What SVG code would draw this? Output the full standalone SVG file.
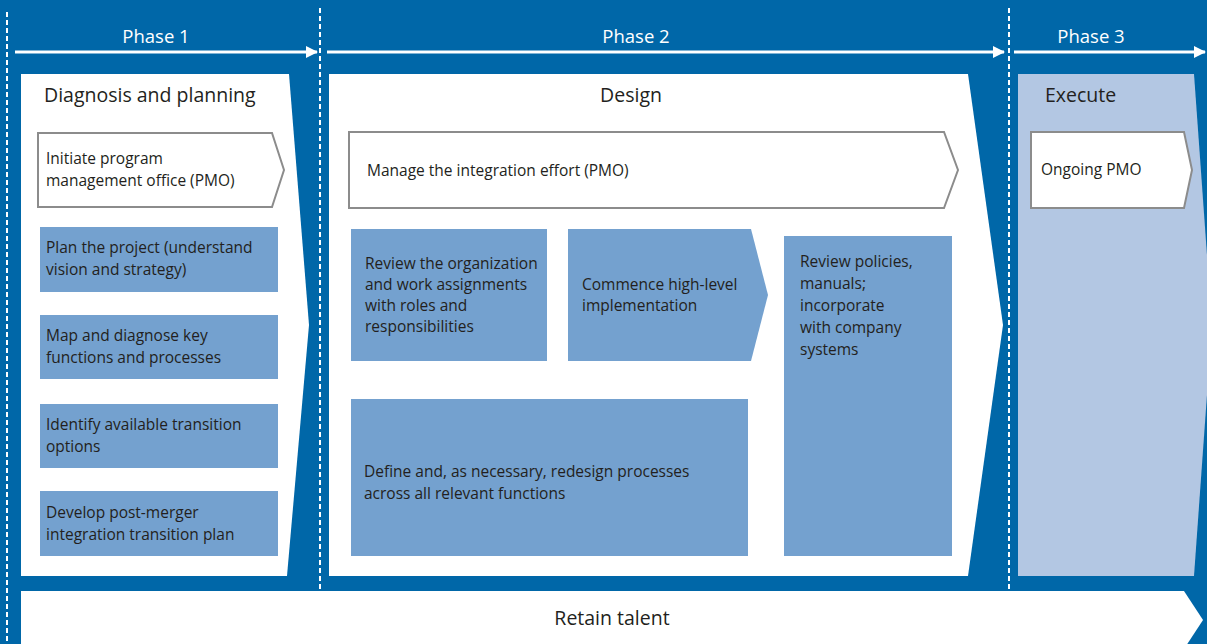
<svg xmlns="http://www.w3.org/2000/svg" width="1207" height="644" viewBox="0 0 1207 644">
  <defs>
    <style>
      .bg { fill: #0067a8; }
      .panel { fill: #ffffff; }
      .panel3 { fill: #b3c7e3; }
      .task { fill: #74a1cf; }
      .pmo { fill: #ffffff; stroke: #8c8c8c; stroke-width: 2; }
      .txt { font-family: "Open Sans", "Liberation Sans", sans-serif; font-size: 15.5px; fill: #231f20; }
      .head { font-family: "Open Sans", "Liberation Sans", sans-serif; font-size: 19.5px; fill: #231f20; }
      .phase { font-family: "Open Sans", "Liberation Sans", sans-serif; font-size: 18.5px; fill: #ffffff; text-anchor: middle; }
      .divider { stroke: #ffffff; stroke-width: 2; stroke-dasharray: 5 3; fill: none; }
      .timeline { stroke: #ffffff; stroke-width: 3; fill: none; marker-end: url(#head); }
    </style>
    <marker id="head" viewBox="0 0 12 12" refX="11" refY="6" markerWidth="12" markerHeight="12" markerUnits="userSpaceOnUse" orient="auto">
      <path d="M0,0 L12,6 L0,12 Z" fill="#ffffff"/>
    </marker>
  </defs>

  <rect class="bg" x="0" y="0" width="1207" height="644"/>

  <!-- phase dividers and timeline arrows -->
  <g id="connectors">
    <line class="divider" x1="7" y1="12" x2="7" y2="644"/>
    <line class="divider" x1="320" y1="8" x2="320" y2="591"/>
    <line class="divider" x1="1009" y1="8" x2="1009" y2="591"/>
    <line class="timeline" x1="15" y1="52" x2="317" y2="52"/>
    <line class="timeline" x1="327" y1="52" x2="1004" y2="52"/>
    <line class="timeline" x1="1014" y1="52" x2="1205" y2="52"/>
  </g>

  <g id="phase-labels">
    <text class="phase" x="156" y="43">Phase 1</text>
    <text class="phase" x="636" y="43">Phase 2</text>
    <text class="phase" x="1091" y="43">Phase 3</text>
  </g>

  <!-- Phase 1 -->
  <g id="phase1">
    <path class="panel" d="M21,74 L289,74 L309,325 L287,576 L21,576 Z"/>
    <text class="head" x="44" y="102">Diagnosis and planning</text>
  </g>
  <g id="initiate-pmo">
    <path class="pmo" d="M38,133 L272,133 L284,170 L272,207 L38,207 Z"/>
    <text class="txt" x="46" y="164">Initiate program</text>
    <text class="txt" x="46" y="186">management office (PMO)</text>
  </g>
  <g id="plan-project">
    <rect class="task" x="40" y="227" width="238" height="65"/>
    <text class="txt" x="46" y="253">Plan the project (understand</text>
    <text class="txt" x="46" y="275">vision and strategy)</text>
  </g>
  <g id="map-diagnose">
    <rect class="task" x="40" y="315" width="238" height="64"/>
    <text class="txt" x="46" y="341">Map and diagnose key</text>
    <text class="txt" x="46" y="363">functions and processes</text>
  </g>
  <g id="transition-options">
    <rect class="task" x="40" y="404" width="238" height="64"/>
    <text class="txt" x="46" y="430">Identify available transition</text>
    <text class="txt" x="46" y="452">options</text>
  </g>
  <g id="transition-plan">
    <rect class="task" x="40" y="491" width="238" height="65"/>
    <text class="txt" x="46" y="518">Develop post-merger</text>
    <text class="txt" x="46" y="540">integration transition plan</text>
  </g>

  <!-- Phase 2 -->
  <g id="phase2">
    <path class="panel" d="M329,74 L968,74 L1003,325 L968,576 L329,576 Z"/>
    <text class="head" x="631" y="102" text-anchor="middle">Design</text>
  </g>
  <g id="manage-integration">
    <path class="pmo" d="M349,132 L944,132 L958,170 L944,208 L349,208 Z"/>
    <text class="txt" x="367" y="176">Manage the integration effort (PMO)</text>
  </g>
  <g id="review-organization">
    <rect class="task" x="351" y="229" width="196" height="132"/>
    <text class="txt" x="365" y="269">Review the organization</text>
    <text class="txt" x="365" y="290">and work assignments</text>
    <text class="txt" x="365" y="311">with roles and</text>
    <text class="txt" x="365" y="332">responsibilities</text>
  </g>
  <g id="commence-implementation">
    <path class="task" d="M568,229 L751,229 L768,295 L751,361 L568,361 Z"/>
    <text class="txt" x="582" y="290">Commence high-level</text>
    <text class="txt" x="582" y="311">implementation</text>
  </g>
  <g id="review-policies">
    <rect class="task" x="784" y="236" width="168" height="320"/>
    <text class="txt" x="800" y="267">Review policies,</text>
    <text class="txt" x="800" y="289">manuals;</text>
    <text class="txt" x="800" y="311">incorporate</text>
    <text class="txt" x="800" y="333">with company</text>
    <text class="txt" x="800" y="355">systems</text>
  </g>
  <g id="redesign-processes">
    <rect class="task" x="351" y="399" width="397" height="157"/>
    <text class="txt" x="364" y="477">Define and, as necessary, redesign processes</text>
    <text class="txt" x="364" y="499">across all relevant functions</text>
  </g>

  <!-- Phase 3 -->
  <g id="phase3">
    <path class="panel3" d="M1018,74 L1194,74 L1212,325 L1194,576 L1018,576 Z"/>
    <text class="head" x="1045" y="102">Execute</text>
  </g>
  <g id="ongoing-pmo">
    <path class="pmo" d="M1031,132 L1184,132 L1192,170 L1184,208 L1031,208 Z"/>
    <text class="txt" x="1041" y="175">Ongoing PMO</text>
  </g>

  <!-- Retain talent band -->
  <g id="retain-talent">
    <path class="panel" d="M21,591 L1184,591 L1203,620 L1184,649 L21,649 Z"/>
    <text class="head" x="612" y="625" text-anchor="middle">Retain talent</text>
  </g>
</svg>
